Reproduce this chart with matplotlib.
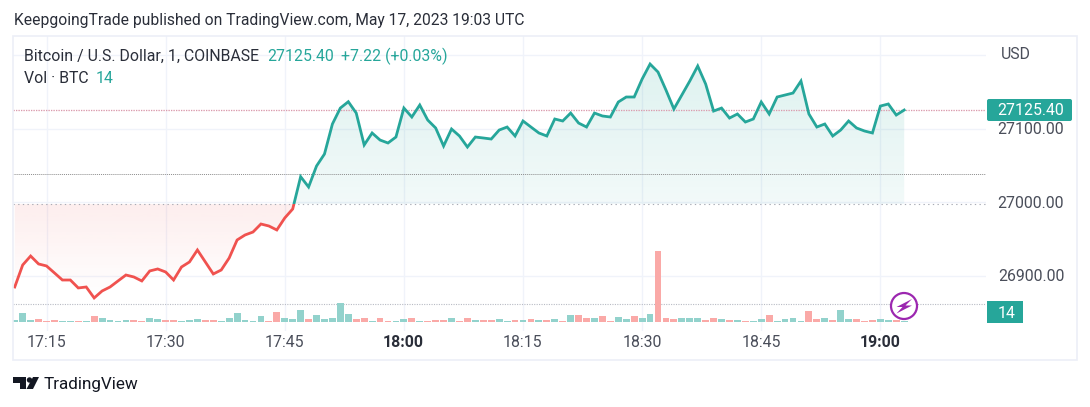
import numpy as np
import matplotlib
matplotlib.use('Agg')
import matplotlib.pyplot as plt
from matplotlib.patches import Rectangle, Circle, Polygon, FancyBboxPatch

plt.rcParams['font.family'] = ['Roboto', 'DejaVu Sans']

# close prices, one per minute, 17:11 to 19:03
prices = [26884.9, 26914.8, 26927.0, 26916.2, 26913.5, 26904.0, 26894.4, 26894.4, 26883.6, 26884.9,
          26870.0, 26879.5, 26884.9, 26893.1, 26901.2, 26898.5, 26893.1, 26906.7, 26909.4, 26905.3,
          26894.4, 26912.1, 26918.9, 26935.2, 26918.9, 26902.6, 26908.0, 26924.3, 26948.8, 26955.6,
          26959.6, 26970.5, 26967.8, 26962.4, 26978.7, 26990.9, 27034.8, 27020.8, 27049.3, 27065.6,
          27106.4, 27128.1, 27136.7, 27121.3, 27077.9, 27094.2, 27084.6, 27080.6, 27088.7, 27128.1,
          27115.9, 27132.2, 27111.8, 27101.0, 27076.5, 27099.6, 27090.1, 27075.1, 27088.7, 27087.4,
          27086.0, 27098.2, 27102.3, 27090.1, 27110.5, 27102.3, 27094.2, 27090.1, 27113.2, 27110.5,
          27121.3, 27107.7, 27102.3, 27121.3, 27117.3, 27115.9, 27136.3, 27143.1, 27143.1, 27167.5,
          27187.9, 27177.0, 27152.6, 27126.8, 27145.8, 27164.8, 27185.2, 27160.7, 27124.0, 27128.1,
          27114.5, 27120.0, 27109.1, 27113.2, 27136.3, 27120.0, 27143.1, 27145.8, 27148.5, 27164.8,
          27120.0, 27102.3, 27106.4, 27090.1, 27098.2, 27110.5, 27101.0, 27096.9, 27094.2, 27130.8,
          27133.6, 27118.6, 27125.4]

volumes = [2, 9, 2, 3, 1, 2, 0.7, 0.7, 1.3, 1.3, 6, 3.7, 2, 0.7, 2, 2, 1.3, 3.7, 3, 2,
           1.7, 1.3, 2, 3, 2.3, 2.3, 1, 3.7, 9, 2, 1.3, 6, 1.3, 10, 4, 3, 12, 3.3, 7, 3,
           4, 19.3, 8, 2.7, 4.3, 1.3, 3.7, 1.3, 1.3, 2.7, 3.7, 1.3, 1.3, 2, 2, 3.7, 1.3, 3.7, 2, 2,
           2, 2.7, 1.3, 2, 2, 2.7, 2, 2, 2.7, 1.3, 6.7, 6.7, 3.7, 3.7, 5.7, 1.3, 5, 3, 5.7, 4.3,
           8.3, 70.7, 4.3, 2.7, 3.7, 4.3, 3.7, 2, 3.7, 2.7, 2, 2, 1.3, 1.3, 3, 7, 0.7, 3, 4, 0.7,
           11, 3, 4, 2, 12.3, 3, 3, 0.7, 2, 3, 2, 2, 1]

# which volume bars are red, the rest are green
red_bars = [3, 4, 5, 8, 10, 15, 16, 19, 20, 24, 25, 32, 33, 37, 43, 44, 46, 47, 50, 52, 53, 54, 56, 57, 59, 60,
            63, 65, 67, 69, 71, 72, 74, 75, 78, 81, 82, 83, 87, 88, 90, 92, 95, 100, 101, 103, 106, 107, 108, 111]

price_ticks = [26900, 27000, 27100, 27200]
time_ticks = [4, 19, 34, 49, 64, 79, 94, 109]
time_labels = ['17:15', '17:30', '17:45', '18:00', '18:15', '18:30', '18:45', '19:00']
bold_times = ['18:00', '19:00']

base_price = 26997.5
ref_price = 27037.8
last_price = 27125.4
vol_level = 18.5

GREEN = '#26A69A'
RED = '#F0524F'
W, H = 1090, 407


def gradient(ax, color, a_top, a_bottom, y_top, y_bottom, clip):
    rgb = matplotlib.colors.to_rgb(color)
    img = np.zeros((256, 1, 4))
    img[..., :3] = rgb
    img[..., 3] = np.linspace(a_top, a_bottom, 256)[:, None]
    im = ax.imshow(img, extent=[-1, 123, y_bottom, y_top], aspect='auto', zorder=1,
                   interpolation='bilinear')
    im.set_clip_path(clip, ax.transData)


def axes_at(fig, left, top, right, bottom):
    return fig.add_axes([left / W, 1 - bottom / H, (right - left) / W, (bottom - top) / H])


fig = plt.figure(figsize=(W / 100, H / 100), dpi=100, facecolor='white')

ax = axes_at(fig, 13, 36, 986, 331)
ax.patch.set_alpha(0)
x = np.arange(len(prices))
y = np.array(prices)
ax.set_xlim(-0.22, 122.3)
ax.set_ylim(26825.1, 27226)

for t in time_ticks:
    ax.axvline(t, color='#f0f3fa', lw=1, zorder=0)
for p in price_ticks:
    ax.axhline(p, color='#f0f3fa', lw=1, zorder=0)

up = ax.fill_between(x, y, base_price, where=y >= base_price, interpolate=True, color='none')
down = ax.fill_between(x, y, base_price, where=y <= base_price, interpolate=True, color='none')
gradient(ax, GREEN, 0.15, 0.06, 27190, base_price, up.get_paths()[0])
gradient(ax, RED, 0.10, 0.0, base_price, 26870, down.get_paths()[0])
ax.set_xlim(-0.22, 122.3)
ax.set_ylim(26825.1, 27226)

ax.axhline(base_price, color='#a8abb5', lw=0.8, dashes=(1.2, 3), zorder=2)
ax.axhline(ref_price, color='#8c8c8c', lw=0.7, dashes=(1, 1), zorder=2)
ax.axhline(last_price, color='#f59aa0', lw=0.9, dashes=(1, 1), zorder=2)
ax.axhline(last_price, color='#9aa0d0', lw=0.9, dashes=(1, 1), zorder=2, alpha=0.3)

line_up, = ax.plot(x, y, color=GREEN, lw=2.0, zorder=4, solid_joinstyle='miter')
line_down, = ax.plot(x, y, color=RED, lw=2.0, zorder=4, solid_joinstyle='miter')
line_up.set_clip_path(Rectangle((-1, base_price), 130, 400, transform=ax.transData))
line_down.set_clip_path(Rectangle((-1, 26700), 130, base_price - 26700, transform=ax.transData))

ax.set_xticks([])
ax.set_yticks([])
for s in ax.spines.values():
    s.set_visible(False)

# volume pane shares the same box, bars sit on y=322
vax = axes_at(fig, 13, 36, 986, 331)
vax.patch.set_alpha(0)
vax.set_xlim(-0.22, 122.3)
vax.set_ylim(-9, 286)
vol_colors = ['#FAA9A7' if i in red_bars else '#92D2CC' for i in range(len(volumes))]
vax.bar(x, volumes, width=0.86, color=vol_colors, linewidth=0, zorder=3)
vax.axhline(vol_level, color='#b8bbc4', lw=0.8, dashes=(1, 1.2), zorder=2)
vax.set_xticks([])
vax.set_yticks([])
for s in vax.spines.values():
    s.set_visible(False)

# everything around the plot, laid out in pixels
deco = fig.add_axes([0, 0, 1, 1], zorder=5)
deco.patch.set_alpha(0)
deco.set_xlim(0, W)
deco.set_ylim(H, 0)
deco.axis('off')
deco.add_patch(Rectangle((13, 36), 1064, 324, fill=False, ec='#eceff7', lw=1.2))

TXT = '#2a2e39'
GREY = '#4a4e5a'
SIZE = 11.4

deco.text(14, 20.5, 'KeepgoingTrade published on TradingView.com, May 17, 2023 19:03 UTC',
          fontsize=11.28, color=TXT, va='center', ha='left')
deco.text(24, 56.5, 'Bitcoin / U.S. Dollar, 1, COINBASE', fontsize=SIZE, color=TXT, va='center')
deco.text(267, 56.5, '27125.40', fontsize=SIZE, color=GREEN, va='center')
deco.text(341, 56.5, '+7.22 (+0.03%)', fontsize=SIZE, color=GREEN, va='center')
deco.text(24, 78.5, 'Vol \u00b7 BTC', fontsize=SIZE, color=TXT, va='center')
deco.text(96, 78.5, '14', fontsize=SIZE, color=GREEN, va='center')

deco.text(1015.5, 54.5, 'USD', fontsize=SIZE, color=GREY, va='center', ha='center')
for p in [26900, 27000, 27100]:
    py = 129.5 - (p - 27100) * 0.736
    deco.text(1031, py, '%.2f' % p, fontsize=SIZE, color=GREY, va='center', ha='center')

deco.add_patch(FancyBboxPatch((987, 99), 85, 22, boxstyle='round,pad=0,rounding_size=2',
                              fc=GREEN, ec='none'))
deco.text(1031, 110.5, '27125.40', fontsize=SIZE, color='white', va='center', ha='center')
deco.add_patch(Rectangle((987, 301), 36, 22, fc=GREEN, ec='none'))
deco.text(1007, 313, '14', fontsize=SIZE, color='white', va='center', ha='center')

for t, lab in zip(time_ticks, time_labels):
    px = 14.6 + 7.94 * t
    bold = lab in bold_times
    deco.text(px, 342.5, lab, fontsize=SIZE, color=TXT if bold else GREY, va='center', ha='center',
              fontweight='bold' if bold else 'normal')

# bolt badge
deco.add_patch(Circle((904, 306), 13, fc='white', ec='#9C27B0', lw=1.6))
deco.add_patch(Polygon([(912, 299), (896.5, 307), (902.5, 307), (896.5, 313.5),
                        (912, 305.5), (905.5, 305.5)], fc='#9C27B0', ec='none'))

# logo
deco.add_patch(Polygon([(13, 377), (26, 377), (26, 389), (20, 389), (20, 383), (13, 383)],
                       fc='#131722', ec='none'))
deco.add_patch(Circle((29.5, 380), 2.7, fc='#131722', ec='none'))
deco.add_patch(Polygon([(33, 377), (39, 377), (33, 389), (26.5, 389)], fc='#131722', ec='none'))
deco.text(44, 384.5, 'TradingView', fontsize=12.3, color='#131722', va='center')

fig.savefig('out.png', dpi=100, facecolor='white')
